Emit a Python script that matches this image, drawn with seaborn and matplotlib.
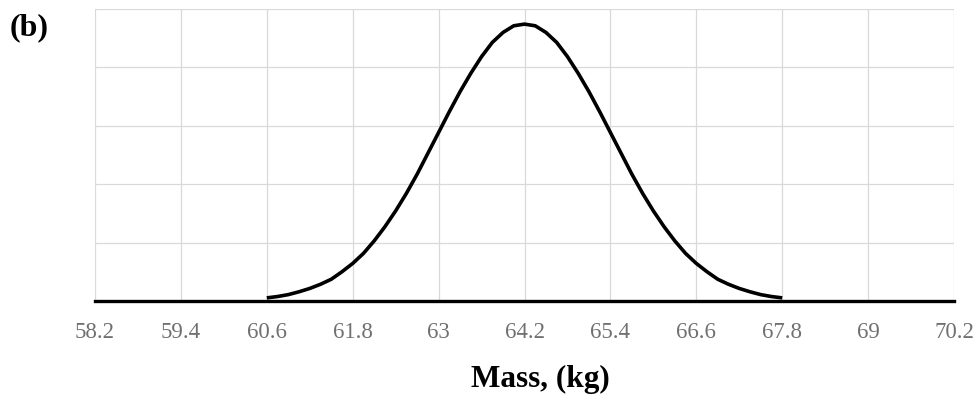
import numpy as np
import pandas as pd
import matplotlib
matplotlib.use('Agg')
import matplotlib.pyplot as plt
import seaborn as sns

sns.set_theme(style='white')
plt.rcParams['font.family'] = ['Liberation Serif', 'DejaVu Serif']
plt.rcParams['text.color'] = 'black'
plt.rcParams['axes.labelcolor'] = 'black'

# Valores (massa em kg e altura da curva)
massa = [60.60, 60.75, 60.90, 61.05, 61.20, 61.35, 61.50, 61.65, 61.80, 61.95,
         62.10, 62.25, 62.40, 62.55, 62.70, 62.85, 63.00, 63.15, 63.30, 63.45,
         63.60, 63.75, 63.90, 64.05, 64.20, 64.35, 64.50, 64.65, 64.80, 64.95,
         65.10, 65.25, 65.40, 65.55, 65.70, 65.85, 66.00, 66.15, 66.30, 66.45,
         66.60, 66.75, 66.90, 67.05, 67.20, 67.35, 67.50, 67.65, 67.80]
densidade = [0.0037, 0.0053, 0.0076, 0.011, 0.015, 0.020, 0.026, 0.035, 0.045, 0.057,
             0.072, 0.089, 0.108, 0.129, 0.152, 0.177, 0.202, 0.227, 0.251, 0.273,
             0.293, 0.310, 0.322, 0.330, 0.332, 0.330, 0.322, 0.310, 0.293, 0.273,
             0.251, 0.227, 0.202, 0.177, 0.152, 0.129, 0.108, 0.089, 0.072, 0.057,
             0.045, 0.035, 0.026, 0.020, 0.015, 0.011, 0.0076, 0.0053, 0.0037]
ticks_x = [58.2, 59.4, 60.6, 61.8, 63.0, 64.2, 65.4, 66.6, 67.8, 69.0, 70.2]
rotulos_x = ['58.2', '59.4', '60.6', '61.8', '63', '64.2', '65.4', '66.6', '67.8', '69', '70.2']
ticks_y = [0.0, 0.07, 0.14, 0.21, 0.28, 0.35]

df = pd.DataFrame({'massa': massa, 'densidade': densidade})

fig = plt.figure(figsize=(9.75, 3.96), dpi=100)
ax = fig.add_axes([0.0974, 0.240, 0.8811, 0.737])

sns.lineplot(data=df, x='massa', y='densidade', ax=ax, color='black',
             linewidth=2.6, solid_capstyle='butt', solid_joinstyle='round')

ax.set_xlim(ticks_x[0], ticks_x[-1])
ax.set_ylim(ticks_y[0], ticks_y[-1])
ax.set_xticks(ticks_x)
ax.set_xticklabels(rotulos_x)
ax.set_yticks(ticks_y)
ax.set_yticklabels([])
ax.grid(True, color='#d9d9d9', linewidth=0.9)
ax.tick_params(axis='x', length=0, pad=15, labelsize=16.5, labelcolor='#707070')
ax.tick_params(axis='y', length=0)

for lado in ['top', 'right', 'left']:
    ax.spines[lado].set_visible(False)
ax.spines['bottom'].set_color('black')
ax.spines['bottom'].set_linewidth(2.4)
ax.spines['bottom'].set_zorder(3)

ax.set_xlabel('Mass, (kg)', fontsize=22.5, fontweight='bold', color='black')
ax.xaxis.set_label_coords(0.519, -0.22)
ax.xaxis.label.set_va('top')
ax.set_ylabel('')
fig.text(0.010, 0.929, '(b)', fontsize=23, fontweight='bold', va='center', ha='left',
         color='black')

plt.savefig('out.png', dpi=100)
